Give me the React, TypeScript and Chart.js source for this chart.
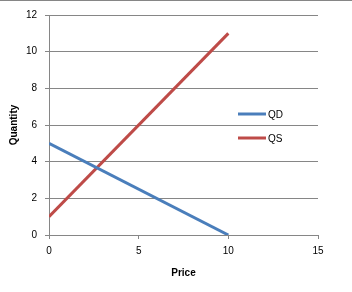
import React, { useEffect, useRef } from "react";
import { Chart, registerables } from "chart.js";

Chart.register(...registerables);

const price = [0, 10];
const qdValues = [5, 0];
const qsValues = [1, 11];
const seriesNames = ["QD", "QS"];
const seriesColors = ["#4A7EBB", "#BE4B48"];
const xTicks = [0, 5, 10, 15];
const yTicks = [0, 2, 4, 6, 8, 10, 12];

const FONT = "'Liberation Sans', Arial, sans-serif";
const GRID = "#868686";

const legendPlugin = {
  id: "excelLegend",
  afterDraw(chart: any) {
    const ctx = chart.ctx;
    ctx.save();
    ctx.font = `10px ${FONT}`;
    ctx.textBaseline = "middle";
    ctx.textAlign = "left";
    const ys = [114, 138];
    chart.data.datasets.forEach((ds: any, i: number) => {
      const y = ys[i];
      ctx.strokeStyle = ds.borderColor;
      ctx.lineWidth = 3;
      ctx.beginPath();
      ctx.moveTo(238, y);
      ctx.lineTo(266, y);
      ctx.stroke();
      ctx.fillStyle = "#000";
      ctx.fillText(ds.label, 268, y + 1);
    });
    ctx.restore();
  },
  beforeDraw(chart: any) {
    const ctx = chart.ctx;
    ctx.save();
    ctx.fillStyle = "#fff";
    ctx.fillRect(0, 0, chart.width, chart.height);
    ctx.fillStyle = GRID;
    ctx.fillRect(0, 0, chart.width, 1);
    ctx.restore();
  },
};

export default function App() {
  const ref = useRef<HTMLCanvasElement>(null);
  useEffect(() => {
    document.body.style.margin = "0";
    const chart = new Chart(ref.current!, {
      type: "scatter",
      data: {
        datasets: [
          {
            label: seriesNames[0],
            data: price.map((x, i) => ({ x, y: qdValues[i] })),
            borderColor: seriesColors[0],
            backgroundColor: seriesColors[0],
            showLine: true,
            borderWidth: 3,
            pointRadius: 0,
          },
          {
            label: seriesNames[1],
            data: price.map((x, i) => ({ x, y: qsValues[i] })),
            borderColor: seriesColors[1],
            backgroundColor: seriesColors[1],
            showLine: true,
            borderWidth: 3,
            pointRadius: 0,
          },
        ],
      },
      options: {
        responsive: false,
        animation: false,
        devicePixelRatio: 1,
        layout: { padding: { top: 15, right: 34, left: 0, bottom: 0 } },
        plugins: {
          legend: { display: false },
          tooltip: { enabled: false },
        },
        scales: {
          x: {
            type: "linear",
            min: 0,
            max: 15,
            afterBuildTicks: (s: any) => {
              s.ticks = xTicks.map((v) => ({ value: v }));
            },
            afterFit: (s: any) => {
              s.height = 57;
            },
            grid: {
              drawOnChartArea: false,
              drawTicks: true,
              tickLength: 4,
              color: GRID,
            },
            border: { color: GRID },
            ticks: {
              color: "#000",
              font: { family: FONT, size: 10 },
              padding: 6,
              maxRotation: 0,
            },
            title: {
              display: true,
              text: "Price",
              color: "#000",
              font: { family: FONT, size: 10, weight: "bold" },
              padding: { top: 0, bottom: 13 },
            },
          },
          y: {
            type: "linear",
            min: 0,
            max: 12,
            afterBuildTicks: (s: any) => {
              s.ticks = yTicks.map((v) => ({ value: v }));
            },
            afterFit: (s: any) => {
              s.width = 49;
            },
            grid: {
              drawTicks: true,
              tickLength: 4,
              color: GRID,
            },
            border: { color: GRID },
            ticks: {
              color: "#000",
              font: { family: FONT, size: 10 },
              padding: 8,
            },
            title: {
              display: true,
              text: "Quantity",
              color: "#000",
              font: { family: FONT, size: 10, weight: "bold" },
              padding: { top: 8, bottom: 0 },
            },
          },
        },
      },
      plugins: [legendPlugin],
    } as any);
    return () => chart.destroy();
  }, []);
  return (
    <div style={{ width: 352, height: 292 }}>
      <canvas ref={ref} width={352} height={292} style={{ display: "block" }} />
    </div>
  );
}
